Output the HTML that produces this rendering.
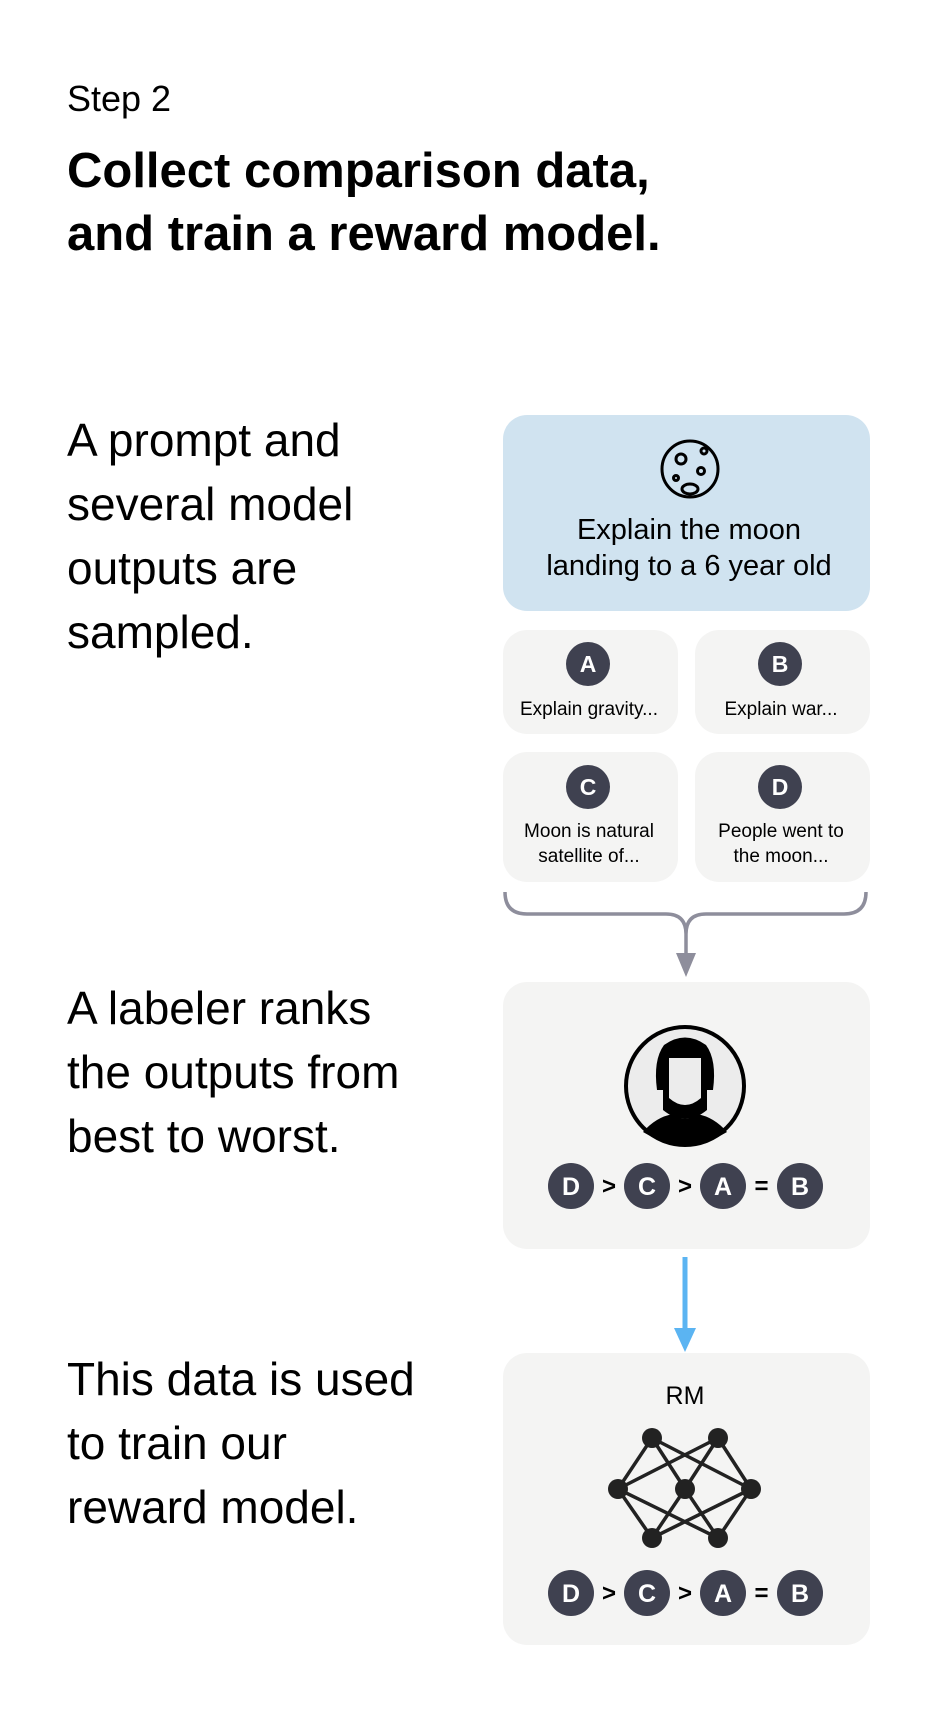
<!DOCTYPE html>
<html><head><meta charset="utf-8"><style>
body{margin:0;background:#fff;}
#root{position:relative;width:938px;height:1720px;overflow:hidden;font-family:"Liberation Sans",sans-serif;color:#000;}
.t{position:absolute;white-space:nowrap;}
.side{font-size:46px;line-height:64px;left:67px;}
.box{position:absolute;border-radius:24px;background:#f4f4f3;}
</style></head><body>
<div id="root">
<div class="t" style="left:67px;top:78px;font-size:36px">Step 2</div>
<div class="t" style="left:67px;top:140px;font-size:49px;font-weight:bold;line-height:63px">Collect comparison data,<br>and train a reward model.</div>
<div class="t side" style="top:408px">A prompt and<br>several model<br>outputs are<br>sampled.</div>
<div class="t side" style="top:976px">A labeler ranks<br>the outputs from<br>best to worst.</div>
<div class="t side" style="top:1347px">This data is used<br>to train our<br>reward model.</div>

<div class="box" style="left:503px;top:415px;width:367px;height:196px;background:#d0e3f0"></div>
<div class="box" style="left:503px;top:630px;width:175px;height:104px"></div>
<div class="box" style="left:695px;top:630px;width:175px;height:104px"></div>
<div class="box" style="left:503px;top:752px;width:175px;height:130px"></div>
<div class="box" style="left:695px;top:752px;width:175px;height:130px"></div>
<div class="box" style="left:503px;top:982px;width:367px;height:267px"></div>
<div class="box" style="left:503px;top:1353px;width:367px;height:292px"></div>

<svg width="938" height="1720" style="position:absolute;left:0;top:0" font-family="Liberation Sans, sans-serif">
<g fill="none" stroke="#000" stroke-width="3">
<circle cx="690" cy="469" r="28"/><circle cx="681" cy="459" r="5"/><circle cx="701" cy="471" r="3.5"/><circle cx="676" cy="478" r="2.5"/><ellipse cx="690" cy="489" rx="8" ry="5"/><circle cx="704" cy="451" r="3"/>
</g>
<text x="689" y="539" font-size="29" text-anchor="middle">Explain the moon</text>
<text x="689" y="575" font-size="29" text-anchor="middle">landing to a 6 year old</text>
<g font-weight="bold" font-size="23" text-anchor="middle" fill="#fff">
<circle cx="588" cy="664" r="22" fill="#3f4150"/><text x="588" y="672">A</text>
<circle cx="780" cy="664" r="22" fill="#3f4150"/><text x="780" y="672">B</text>
<circle cx="588" cy="787" r="22" fill="#3f4150"/><text x="588" y="795">C</text>
<circle cx="780" cy="787" r="22" fill="#3f4150"/><text x="780" y="795">D</text>
</g>
<g font-size="19" text-anchor="middle">
<text x="589" y="715">Explain gravity...</text>
<text x="781" y="715">Explain war...</text>
<text x="589" y="837">Moon is natural</text><text x="589" y="862">satellite of...</text>
<text x="781" y="837">People went to</text><text x="781" y="862">the moon...</text>
</g>
<path d="M505 892 Q505 914 527 914 L666 914 Q686 914 686 934 M866 892 Q866 914 844 914 L706 914 Q686 914 686 934 L686 955" fill="none" stroke="#8e8e9c" stroke-width="3.5"/>
<polygon points="676,953 696,953 686,977" fill="#8e8e9c"/>
<g>
<circle cx="685" cy="1086" r="59" fill="#ececec" stroke="#000" stroke-width="4"/>
<path d="M663 1110 Q685 1128 707 1110 L707 1090 L713 1090 Q717 1060 706 1045 Q685 1030 664 1045 Q653 1060 657 1090 L663 1090 Z" fill="#000"/>
<path d="M669 1058 L701 1058 L701 1098 Q685 1112 669 1098 Z" fill="#ececec"/>
<path d="M643 1132 Q656 1117 673 1114 Q685 1124 697 1114 Q714 1117 727 1132 Q706 1145 685 1145 Q664 1145 643 1132 Z" fill="#000"/>
</g>
<line x1="685" y1="1257" x2="685" y2="1330" stroke="#5bb4f2" stroke-width="5"/>
<polygon points="674,1328 696,1328 685,1352" fill="#5bb4f2"/>
<text x="685" y="1404" font-size="25" text-anchor="middle">RM</text>
<g id="net"></g>
<g id="rank1"></g>
<g id="rank2"></g>
</svg>
</div>
<script>
const ns="http://www.w3.org/2000/svg";
const nodes=[[652,1438],[718,1438],[618,1489],[685,1489],[751,1489],[652,1538],[718,1538]];
const edges=[[0,2],[0,3],[0,4],[1,2],[1,3],[1,4],[5,2],[5,3],[5,4],[6,2],[6,3],[6,4]];
const net=document.getElementById('net');
edges.forEach(e=>{const l=document.createElementNS(ns,'line');
l.setAttribute('x1',nodes[e[0]][0]);l.setAttribute('y1',nodes[e[0]][1]);l.setAttribute('x2',nodes[e[1]][0]);l.setAttribute('y2',nodes[e[1]][1]);
l.setAttribute('stroke','#222');l.setAttribute('stroke-width','3.5');


net.appendChild(l);});
nodes.forEach(n=>{const c=document.createElementNS(ns,'circle');
c.setAttribute('cx',n[0]);c.setAttribute('cy',n[1]);c.setAttribute('r','10');c.setAttribute('fill','#222');


net.appendChild(c);});
const letters=['D','C','A','B'], ops=['>','>','='], xs=[571,647,723,800];
function rank(id,y){const g=document.getElementById(id);
letters.forEach((L,i)=>{const c=document.createElementNS(ns,'circle');
c.setAttribute('cx',xs[i]);c.setAttribute('cy',y);c.setAttribute('r','23');c.setAttribute('fill','#3f4150');


g.appendChild(c);
const t=document.createElementNS(ns,'text');t.setAttribute('x',xs[i]);t.setAttribute('y',y+9);
t.setAttribute('text-anchor','middle');t.setAttribute('font-size','25');t.setAttribute('font-weight','bold');t.setAttribute('fill','#fff');
t.textContent=L;g.appendChild(t);
if(i<3){const o=document.createElementNS(ns,'text');o.setAttribute('x',(xs[i]+xs[i+1])/2);o.setAttribute('y',y+8);
o.setAttribute('text-anchor','middle');o.setAttribute('font-size','24');o.setAttribute('font-weight','bold');


o.textContent=ops[i];g.appendChild(o);}
});}
rank('rank1',1186);rank('rank2',1593);
</script>
</body></html>
